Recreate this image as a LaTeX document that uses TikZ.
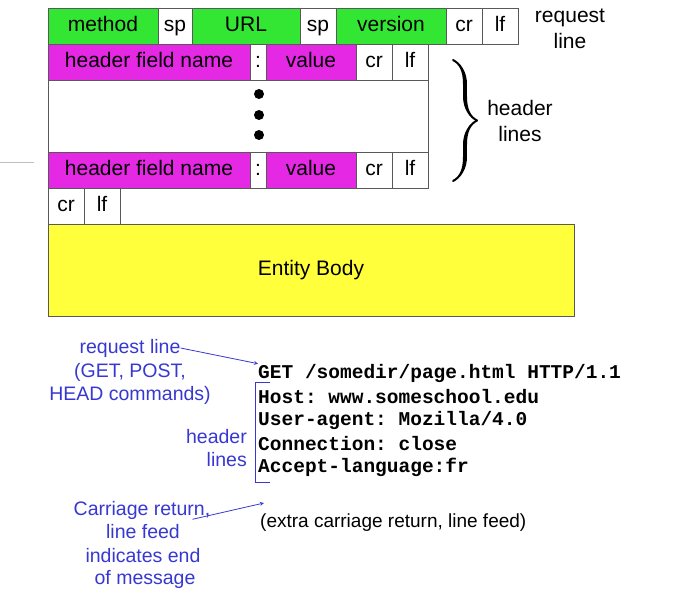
\documentclass[tikz,border=0pt]{standalone}
\usepackage{fontspec}
\setmainfont{Liberation Sans}
\setmonofont{Liberation Mono}
\usetikzlibrary{arrows,decorations.pathreplacing,calligraphy,positioning}

\definecolor{fieldgreen}{RGB}{51,230,51}
\definecolor{fieldmagenta}{RGB}{228,40,228}
\definecolor{bodyyellow}{RGB}{255,255,60}
\definecolor{noteblue}{RGB}{55,55,210}

\tikzset{
  cell/.style={draw=black!65, line width=0.8pt, inner sep=0pt, outer sep=0pt,
    minimum height=36pt, text height=15pt, text depth=4pt,
    font=\fontsize{21}{25}\selectfont},
  reqfield/.style={cell, fill=fieldgreen},
  hdrfield/.style={cell, fill=fieldmagenta},
  plain/.style={cell, fill=white},
  tag/.style={inner sep=0pt, align=center, font=\fontsize{21}{26}\selectfont},
  note/.style={text=noteblue, inner sep=0pt, font=\fontsize{19.5}{23}\selectfont},
  msgline/.style={anchor=west, inner sep=0pt,
    font=\fontsize{19.5}{23}\selectfont\ttfamily\bfseries},
  notearrow/.style={draw=noteblue, line width=0.8pt, -stealth},
}

\begin{document}
\begin{tikzpicture}[x=1pt, y=-1pt, node distance=0pt]
    \useasboundingbox (0,0) rectangle (682,592);
    \draw[black!25] (0,162) -- (34,162);

    % request line
    \node[reqfield, minimum width=110pt] (method) at (103,26) {method};
    \node[plain, minimum width=34pt] (sp1) [right=of method] {sp};
    \node[reqfield, minimum width=108pt] (url) [right=of sp1] {URL};
    \node[plain, minimum width=36pt] (sp2) [right=of url] {sp};
    \node[reqfield, minimum width=110pt] (version) [right=of sp2] {version};
    \node[plain, minimum width=36pt] (cr1) [right=of version] {cr};
    \node[plain, minimum width=36pt] (lf1) [right=of cr1] {lf};
    \node[tag] (reqtag) at (570,29) {request\\line};

    % header lines
    \node[hdrfield, minimum width=202pt] (name1) [below right=of method.south west] {header field name};
    \node[plain, minimum width=16pt] (colon1) [right=of name1] {:};
    \node[hdrfield, minimum width=90pt] (value1) [right=of colon1] {value};
    \node[plain, minimum width=36pt] (cr2) [right=of value1] {cr};
    \node[plain, minimum width=36pt] (lf2) [right=of cr2] {lf};
    \node[plain, minimum width=380pt, minimum height=72pt] (more) [below right=of name1.south west] {};
    \foreach \y in {94,115,135}
        \fill (259,\y) circle (5pt);
    \node[hdrfield, minimum width=202pt] (name2) [below right=of more.south west] {header field name};
    \node[plain, minimum width=16pt] (colon2) [right=of name2] {:};
    \node[hdrfield, minimum width=90pt] (value2) [right=of colon2] {value};
    \node[plain, minimum width=36pt] (cr3) [right=of value2] {cr};
    \node[plain, minimum width=36pt] (lf3) [right=of cr3] {lf};
    \draw[decorate, decoration={calligraphic brace, amplitude=24pt}, line width=4pt, pen colour={black}] (453,60) -- (453,181);
    \node[tag] (hdrtag) at (520,121) {header\\lines};

    % blank line and body
    \node[plain, minimum width=36pt] (cr4) [below right=of name2.south west] {cr};
    \node[plain, minimum width=36pt] (lf4) [right=of cr4] {lf};
    \node[cell, fill=bodyyellow, minimum width=526pt, minimum height=92pt] (body) [below right=of cr4.south west] {Entity Body};

    % example message
    \node[msgline] (get) at (258,373) {GET /somedir/page.html HTTP/1.1};
    \node[msgline] (host) at (258,397) {Host: www.someschool.edu};
    \node[msgline] (agent) at (258,420) {User-agent: Mozilla/4.0};
    \node[msgline] (conn) at (258,444) {Connection: close};
    \node[msgline] (accept) at (258,467) {Accept-language:fr};
    \node[anchor=west, inner sep=0pt, font=\fontsize{19}{23}\selectfont] (extra) at (260,523) {(extra carriage return, line feed)};

    % notes
    \node[note] (reqnote) at (130,348) {request line};
    \node[note] (getpost) at (130,372) {(GET, POST,};
    \node[note] (headcmd) at (130,395) {HEAD commands)};
    \draw[notearrow] (reqnote.east) -- (get.north west);
    \draw[noteblue, line width=0.8pt] (270,382) -- (255,382) -- (255,482) -- (270,482);
    \node[note, anchor=east] (hdrnote) at (247,437) {header};
    \node[note, anchor=east] (linesnote) at (247,460) {lines};
    \node[note] (crnote) at (142,510) {Carriage return,};
    \node[note] (lfnote) at (143,532) {line feed};
    \node[note] (endnote) at (143,556) {indicates end};
    \node[note] (msgnote) at (145,579) {of message};
    \coordinate (extratip) at (264,503);
    \draw[notearrow] ([xshift=-18pt]crnote.south east) -- (extratip);
\end{tikzpicture}
\end{document}
